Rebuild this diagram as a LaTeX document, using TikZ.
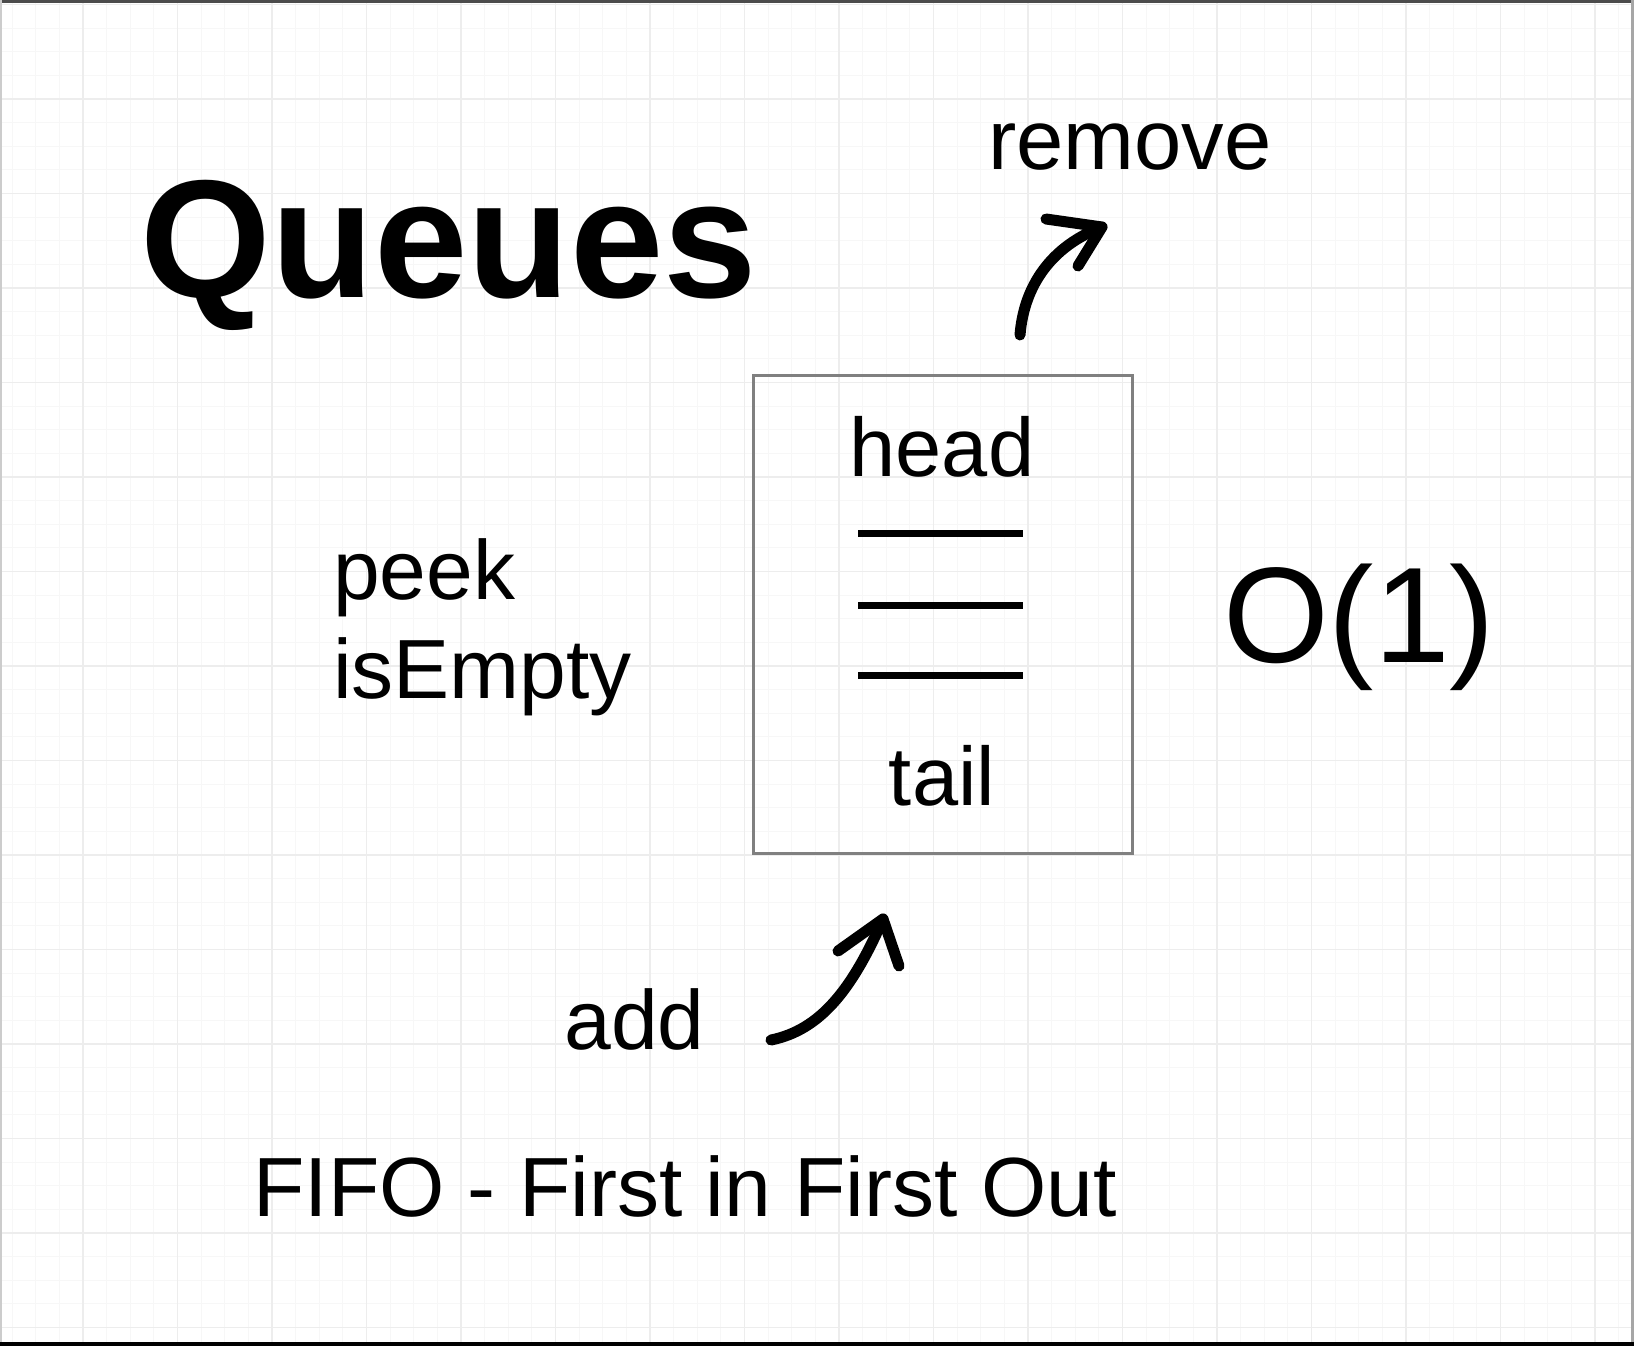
\documentclass[tikz,border=0pt]{standalone}
\usepackage{fontspec}
\setmainfont{Liberation Sans}
\begin{document}
\begin{tikzpicture}[x=1pt,y=-1pt,
  minorline/.style={draw=black!3, line width=1.2pt},
  majorline/.style={draw=black!7, line width=1.6pt},
  lbl/.style={inner sep=0pt, outer sep=0pt, anchor=base},
  lblw/.style={inner sep=0pt, outer sep=0pt, anchor=base west},
  txt/.style={font=\fontsize{84}{99}\selectfont},
  stroke/.style={line width=11pt, line cap=round, line join=round},
  slot/.style={line width=7pt},
  queuebox/.style={draw=black!50, line width=3pt}
]
\useasboundingbox (0,0) rectangle (1634,1346);
\fill[white] (0,0) rectangle (1634,1346);
% grid
\foreach \i in {-4,...,66} {\draw[minorline] ({83+\i*23.625},0) -- ({83+\i*23.625},1346);}
\foreach \j in {-5,...,54} {\draw[minorline] (0,{99+\j*23.625}) -- (1634,{99+\j*23.625});}
\foreach \i in {-1,...,17} {\draw[majorline] ({83+\i*94.5},0) -- ({83+\i*94.5},1346);}
\foreach \j in {-1,...,13} {\draw[majorline] (0,{99+\j*94.5}) -- (1634,{99+\j*94.5});}
% frame
\draw[black!70, line width=3pt] (0,1.5) -- (1634,1.5);
\draw[black!35, line width=3pt] (1632,0) -- (1632,1346);
\draw[black!20, line width=2pt] (1,0) -- (1,1346);
\fill[black] (0,1342) rectangle (1634,1346);
% texts
\node[lbl, font=\fontsize{168}{200}\selectfont\bfseries] (title) at (449,297) {Queues};
\node[lbl, font=\fontsize{85}{99}\selectfont] (remove) at (1130,169) {remove};
\node[lblw, txt] (peek) at (333,599) {peek};
\node[lblw, txt] (isempty) at (333,698) {isEmpty};
\node[lbl, font=\fontsize{136}{160}\selectfont] (order) at (1359,662) {O(1)};
\node[lbl, txt] (add) at (634.5,1049) {add};
\node[lbl, txt] (fifo) at (685,1216) {FIFO - First in First Out};
% queue box
\draw[queuebox] (753,375) rectangle (1132,853);
\node[lbl, font=\fontsize{83}{99}\selectfont] (head) at (942,476) {head};
\node[lbl, font=\fontsize{83}{99}\selectfont] (tail) at (942,805) {tail};
\coordinate (s1a) at (858,533); \coordinate (s1b) at (1023,533);
\coordinate (s2a) at (858,605); \coordinate (s2b) at (1023,605);
\coordinate (s3a) at (858,675); \coordinate (s3b) at (1023,675);
\draw[slot] (s1a) -- (s1b);
\draw[slot] (s2a) -- (s2b);
\draw[slot] (s3a) -- (s3b);
% remove arrow
\coordinate (remS) at (1020,335);
\coordinate (remT) at (1102,227);
\coordinate (remB1) at (1046,219);
\coordinate (remB2) at (1078,266);
\draw[stroke] (remS) .. controls (1024,285) and (1052,246) .. (remT);
\draw[stroke] (remB1) -- (remT) -- (remB2);
% add arrow
\coordinate (addS) at (771,1040);
\coordinate (addT) at (883,919);
\coordinate (addB1) at (838,951);
\coordinate (addB2) at (899,966);
\draw[stroke] (addS) .. controls (820,1030) and (852,990) .. (addT);
\draw[stroke] (addB1) -- (addT) -- (addB2);
\end{tikzpicture}
\end{document}
